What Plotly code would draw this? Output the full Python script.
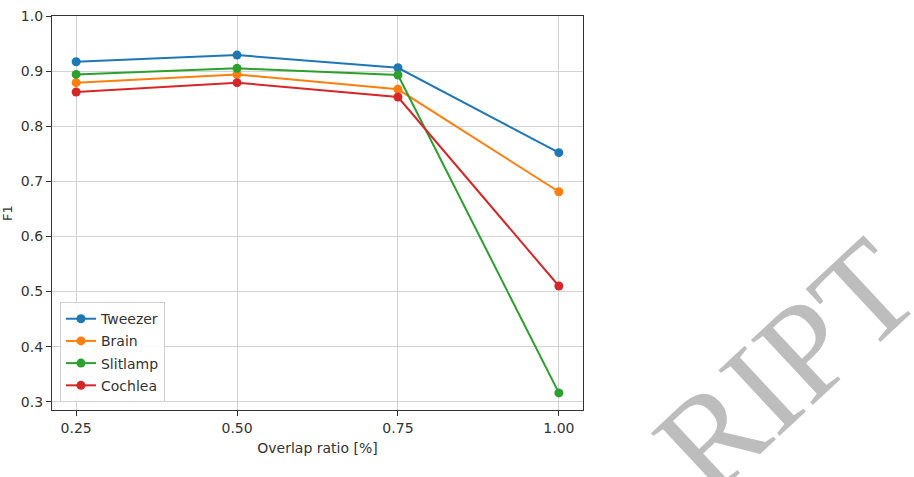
import plotly.graph_objects as go

overlap = [0.25, 0.50, 0.75, 1.00]
tick_labels = ["0.25", "0.50", "0.75", "1.00"]
tweezer = [0.917, 0.929, 0.906, 0.752]
brain = [0.879, 0.894, 0.867, 0.681]
slitlamp = [0.894, 0.905, 0.893, 0.316]
cochlea = [0.862, 0.879, 0.853, 0.510]

series = [("Tweezer", tweezer, "#1f77b4"), ("Brain", brain, "#ff7f0e"),
          ("Slitlamp", slitlamp, "#2ca02c"), ("Cochlea", cochlea, "#d62728")]

fig = go.Figure()
for name, vals, col in series:
    fig.add_trace(go.Scatter(x=overlap, y=vals, mode="lines+markers", name=name,
                             legendgroup=name,
                             line=dict(color=col, width=2),
                             marker=dict(color=col, size=9)))

W, H = 914, 477
L, R, T, B = 52, 331, 16, 67
pw, ph = W - L - R, H - T - B

def px2paper(px, py):
    return (px - L) / pw, (H - B - py) / ph

wx, wy = px2paper(786, 367)
fig.add_annotation(text="RIPT", xref="paper", yref="paper", x=wx, y=wy,
                   xanchor="center", yanchor="middle",
                   showarrow=False, textangle=-43,
                   font=dict(family="Liberation Serif", size=137, color="#bdbdbd"))

axis_common = dict(showline=True, mirror=True, linecolor="#333333", linewidth=1.3,
                   ticks="outside", ticklen=5, tickcolor="#333333", tickwidth=1.3,
                   showgrid=True, gridcolor="#d3d3d3", gridwidth=1.2, zeroline=False,
                   tickfont=dict(family="DejaVu Sans", size=14, color="#333333"))

fig.update_layout(
    width=W, height=H, margin=dict(l=L, r=R, t=T, b=B),
    plot_bgcolor="white", paper_bgcolor="white",
    font=dict(family="DejaVu Sans", size=14, color="#333333"),
    xaxis=dict(range=[0.2125, 1.0375], tickvals=overlap, ticktext=tick_labels,
               title=dict(text="Overlap ratio [%]", standoff=8,
                          font=dict(family="DejaVu Sans", size=14, color="#333333")),
               automargin=False, **axis_common),
    yaxis=dict(range=[0.285, 1.0], dtick=0.1, tickformat=".1f",
               title=dict(text="F1", standoff=6,
                          font=dict(family="DejaVu Sans", size=13, color="#333333")),
               automargin=False, **axis_common),
    legend=dict(x=0.015, y=0.02, xanchor="left", yanchor="bottom",
                bgcolor="rgba(255,255,255,0.85)", bordercolor="#d0d0d0", borderwidth=1,
                tracegroupgap=1, traceorder="grouped",
                font=dict(family="DejaVu Sans", size=14, color="#333333")),
    showlegend=True,
)

fig.write_html("out.html")
